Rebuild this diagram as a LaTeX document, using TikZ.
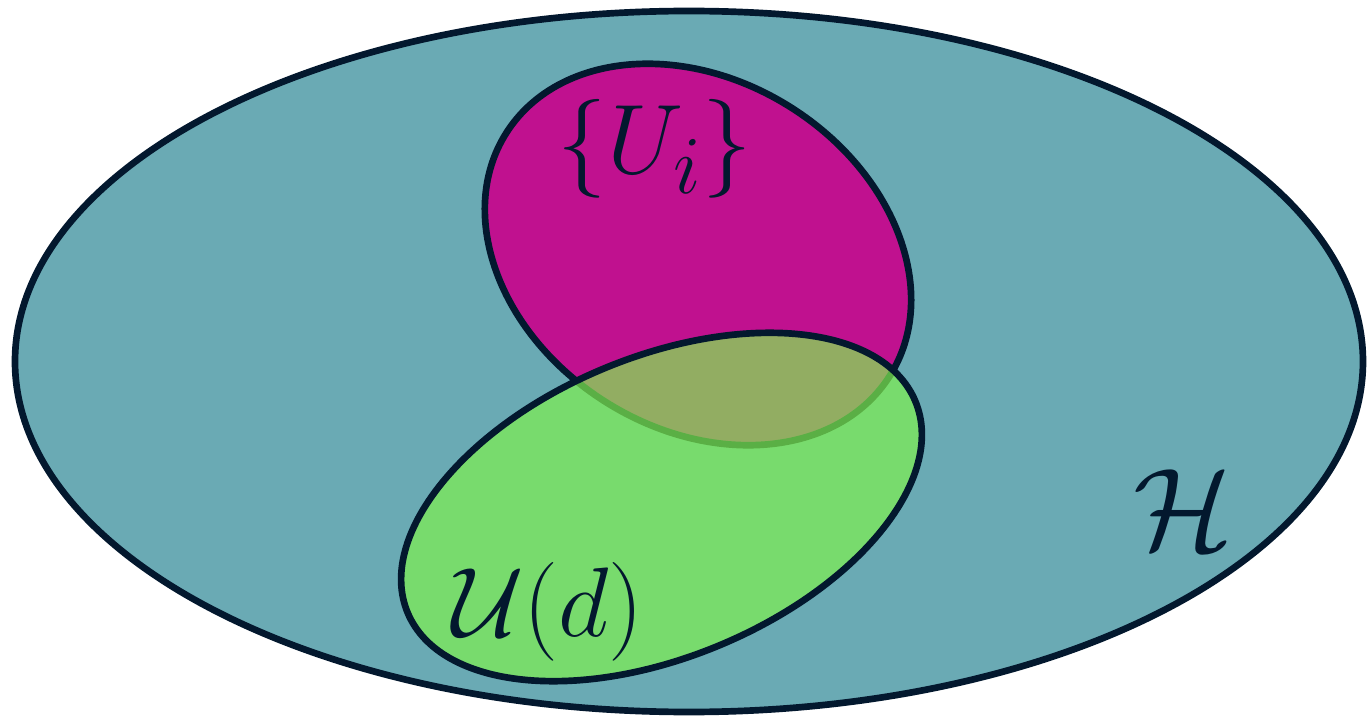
\documentclass[tikz,border=0pt]{standalone}
\usepackage{amsmath,amssymb}
\usepackage{xcolor}
\usepackage{tikz}

\definecolor{hcol}{HTML}{6AAAB4}
\definecolor{ucol}{HTML}{C0118F}
\definecolor{dcol}{HTML}{7FF04F}
\definecolor{edge}{HTML}{03182E}

\begin{document}
\begin{tikzpicture}[
set/.style={draw=edge,line width=1.9pt},
lbl/.style={text=edge,inner sep=0pt,font=\Huge,scale=1.13}
]
\useasboundingbox (0,0) rectangle (13.67,7.18);
\coordinate (hc) at (6.89,3.565);
\coordinate (uc) at (6.98,4.635);
\coordinate (dc) at (6.615,2.11);
% outer space
\draw[set,fill=hcol] (hc) ellipse [x radius=6.74,y radius=3.505];
% the two subsets
\draw[set,fill=ucol] (uc) ellipse [x radius=2.27,y radius=1.74,rotate=-32.4];
\fill[dcol,fill opacity=0.7] (dc) ellipse [x radius=2.75,y radius=1.5,rotate=22.6];
\draw[set] (dc) ellipse [x radius=2.75,y radius=1.5,rotate=22.6];
% labels
\node[lbl] (ui) at (6.55,5.69) {$\{U_i\}$};
\node[lbl] (ud) at (5.48,1.06) {$\mathcal{U}(d)$};
\node[lbl,scale=1.18] (hs) at (11.83,2.08) {$\mathcal{H}$};
\end{tikzpicture}
\end{document}
